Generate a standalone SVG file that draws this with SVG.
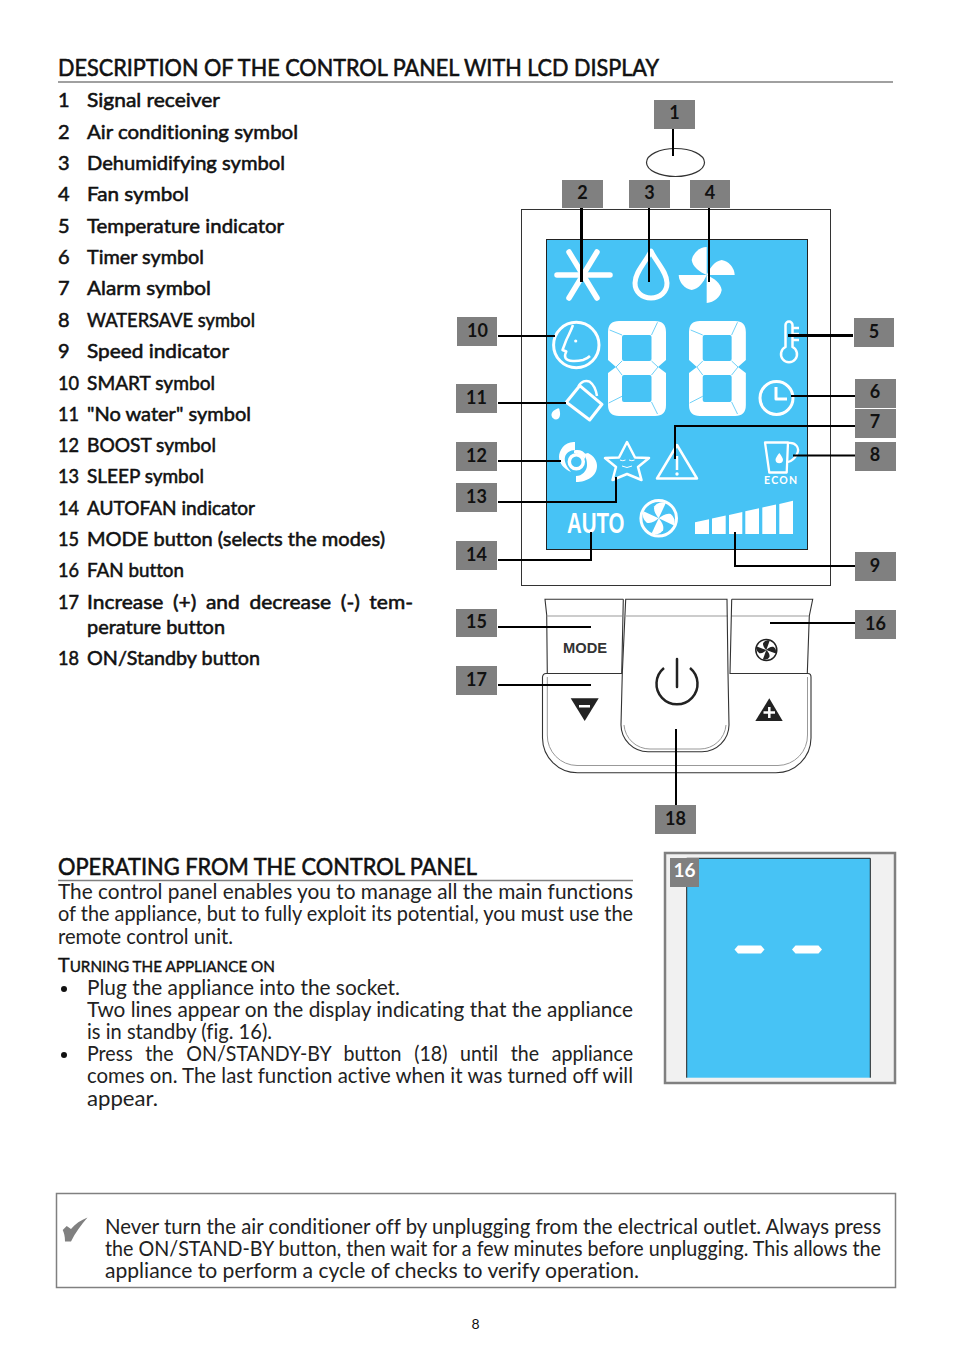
<svg xmlns="http://www.w3.org/2000/svg" width="954" height="1361" viewBox="0 0 954 1361">
<style>
text{font-family:"Lato","Open Sans","Liberation Sans",sans-serif;fill:#111;font-variant-ligatures:none}
.li{font-size:20px;stroke:#111;stroke-width:.55px}
.h{font-size:24px;stroke:#111;stroke-width:.6px}
.p{font-size:20.5px;fill:#222}
.lab{font-size:18px;font-weight:700;text-anchor:middle}
.box{fill:#808080}
.conn line,.conn path{fill:none;stroke:#000;stroke-width:2}
.ic{fill:none;stroke:#fff;stroke-width:3;stroke-linejoin:round}
.w{fill:#fff}
.pl{fill:none;stroke:#333;stroke-width:1.1}
.pf{fill:none;stroke:#999;stroke-width:1}
</style>
<defs>
<path id="blade" d="M0,0L0,-28A16,16 0 0 0 -15,-15C-14,-8 -7,-3 0,0Z"/>
<g id="fan"><use href="#blade"/><use href="#blade" transform="rotate(90)"/><use href="#blade" transform="rotate(180)"/><use href="#blade" transform="rotate(270)"/></g>
<g id="digit">
<path fill="#fff" fill-rule="evenodd" d="M11,0H47Q58,0 58,11V39L50,46L58,52V84Q58,95 47,95H11Q0,95 0,84V52L8,46L0,39V11Q0,0 11,0ZM16,14Q14,14 14,16V38Q14,40 16,40H41.500Q43.500,40 43.500,38V16Q43.500,14 41.500,14ZM16,54Q14,54 14,56V79Q14,81 16,81H41.500Q43.500,81 43.500,79V56Q43.500,54 41.500,54Z"/>
<path fill="none" stroke="#47c3f5" stroke-width=".8" d="M14,14L1.700,9M43.500,14L49.500,1.300M14,75.300L.7,82M43.500,81L49.500,93M8,46L14,40M8,46L14,54M50,46L43.500,40M50,46L43.500,54"/>
</g>
</defs>
<rect width="954" height="1361" fill="#fff"/>

<g id="heading-1">
<text class="h" x="58" y="76" textLength="601" lengthAdjust="spacingAndGlyphs">DESCRIPTION OF THE CONTROL PANEL WITH LCD DISPLAY</text>
<line x1="58" y1="82" x2="893" y2="82" stroke="#808080" stroke-width="1.5"/>
</g>

<g id="legend">
<text class="li" x="58" y="107">1</text><text class="li" x="87" y="107" textLength="133" lengthAdjust="spacingAndGlyphs">Signal receiver</text>
<text class="li" x="58" y="139">2</text><text class="li" x="87" y="139" textLength="211" lengthAdjust="spacingAndGlyphs">Air conditioning symbol</text>
<text class="li" x="58" y="170">3</text><text class="li" x="87" y="170" textLength="198" lengthAdjust="spacingAndGlyphs">Dehumidifying symbol</text>
<text class="li" x="58" y="201">4</text><text class="li" x="87" y="201" textLength="102" lengthAdjust="spacingAndGlyphs">Fan symbol</text>
<text class="li" x="58" y="233">5</text><text class="li" x="87" y="233" textLength="197" lengthAdjust="spacingAndGlyphs">Temperature indicator</text>
<text class="li" x="58" y="264">6</text><text class="li" x="87" y="264" textLength="117" lengthAdjust="spacingAndGlyphs">Timer symbol</text>
<text class="li" x="58" y="295">7</text><text class="li" x="87" y="295" textLength="124" lengthAdjust="spacingAndGlyphs">Alarm symbol</text>
<text class="li" x="58" y="327">8</text><text class="li" x="87" y="327" textLength="168" lengthAdjust="spacingAndGlyphs">WATERSAVE symbol</text>
<text class="li" x="58" y="358">9</text><text class="li" x="87" y="358" textLength="142" lengthAdjust="spacingAndGlyphs">Speed indicator</text>
<text class="li" x="58" y="390" textLength="21" lengthAdjust="spacingAndGlyphs">10</text><text class="li" x="87" y="390" textLength="128" lengthAdjust="spacingAndGlyphs">SMART symbol</text>
<text class="li" x="58" y="421" textLength="21" lengthAdjust="spacingAndGlyphs">11</text><text class="li" x="87" y="421" textLength="164" lengthAdjust="spacingAndGlyphs">"No water" symbol</text>
<text class="li" x="58" y="452" textLength="21" lengthAdjust="spacingAndGlyphs">12</text><text class="li" x="87" y="452" textLength="129" lengthAdjust="spacingAndGlyphs">BOOST symbol</text>
<text class="li" x="58" y="483" textLength="21" lengthAdjust="spacingAndGlyphs">13</text><text class="li" x="87" y="483" textLength="117" lengthAdjust="spacingAndGlyphs">SLEEP symbol</text>
<text class="li" x="58" y="515" textLength="21" lengthAdjust="spacingAndGlyphs">14</text><text class="li" x="87" y="515" textLength="168" lengthAdjust="spacingAndGlyphs">AUTOFAN indicator</text>
<text class="li" x="58" y="546" textLength="21" lengthAdjust="spacingAndGlyphs">15</text><text class="li" x="87" y="546" textLength="298" lengthAdjust="spacingAndGlyphs">MODE button (selects the modes)</text>
<text class="li" x="58" y="577" textLength="21" lengthAdjust="spacingAndGlyphs">16</text><text class="li" x="87" y="577" textLength="97" lengthAdjust="spacingAndGlyphs">FAN button</text>
<text class="li" x="58" y="609" textLength="21" lengthAdjust="spacingAndGlyphs">17</text><text class="li" x="87" y="609" textLength="326" lengthAdjust="spacingAndGlyphs" word-spacing="4">Increase (+) and decrease (-) tem-</text>
<text class="li" x="87" y="634" textLength="138" lengthAdjust="spacingAndGlyphs">perature button</text>
<text class="li" x="58" y="665" textLength="21" lengthAdjust="spacingAndGlyphs">18</text><text class="li" x="87" y="665" textLength="173" lengthAdjust="spacingAndGlyphs">ON/Standby button</text>
</g>

<ellipse id="receiver" cx="675.5" cy="162.5" rx="29" ry="14" fill="none" stroke="#333" stroke-width="1.2"/>

<g id="lcd">
<rect x="521.5" y="209.5" width="309" height="376" fill="none" stroke="#333" stroke-width="1"/>
<rect x="546.5" y="239.5" width="261" height="310" fill="#47c3f5" stroke="#222" stroke-width="1"/>
<g id="sym-air" stroke="#fff" stroke-width="5.5" stroke-linecap="round"><line x1="557" y1="275" x2="610" y2="275"/><line x1="569" y1="252" x2="597" y2="298"/><line x1="597" y1="252" x2="569" y2="298"/></g>
<path id="sym-drop" class="ic" style="stroke-width:5" d="M651,251C646,262 635,272 635,283C635,292 642,298 651,298C660,298 667,292 667,283C667,272 656,262 651,251Z"/>
<use id="sym-fan" href="#fan" class="w" transform="translate(706.7,275)"/>
<g id="sym-smart" class="ic"><circle cx="576.3" cy="345" r="22.7"/><path style="stroke-width:2.5" d="M573,325C571,331 568,336 566.300,340L562.500,350L566.300,351.500C565,354 564.500,356 565.500,358C568,362 577,361.500 583,360C586,359 588,358 590,356"/><circle cx="575.700" cy="341" r="1.600" class="w" style="stroke:none"/></g>
<use href="#digit" transform="translate(608,321)"/>
<use href="#digit" transform="translate(689,321) scale(.98,1)"/>
<g id="sym-temp" class="ic" style="stroke-width:2.5"><path d="M785.5,347V325A3.5,3.5 0 0 1 792.5,325V347A8,8 0 1 1 785.5,347Z"/><path d="M793,328H799M793,334H799M793,340H799"/></g>
<g id="sym-timer" class="ic"><circle cx="776.5" cy="398" r="16.5"/><path d="M776,387V399H787"/></g>
<g id="sym-nowater"><path class="ic" d="M566.300,402.300L579.700,385.700L602,404.300L589.700,420Z"/><path class="ic" style="stroke-width:2.5" d="M578.500,386.500C581,381 586,380 589.700,381.700C593,384 596,390 597,396"/><path class="w" d="M559,408.300C555,409 551,412 551.500,415.500C552,419 556,420.500 558.500,418.500C561,416 560,411 559,408.300Z"/></g>
<g id="sym-boost"><path class="w" d="M575,442C565,441 559,450 559,457C559,463 564,469 571,472C566,466 564,461 565,457C566,453 570,450 575,450Z"/><path class="w" d="M588,453C594,456 597,461 597,466C597,476 587,482 576,482L576,476C582,476 587,471 587,465C587,461 586,457 584,454Z"/><circle cx="576.300" cy="461.700" r="7" fill="none" stroke="#fff" stroke-width="3.500"/><path class="w" d="M574,450.500C579,449 584,451 586,455L585,459C582,455 578,453 574,453Z"/></g>
<g id="sym-sleep"><polygon class="ic" style="stroke-width:2.5" points="627,442 635,457.500 649,458 638,467 641.500,480 627,474 612.500,480 616,467 605,458 619,457.500"/><path fill="none" stroke="#fff" stroke-width="1" d="M620,460Q623,461.500 625.500,460M629,460Q632,461.500 634.500,460M622,466Q627,469 632,466"/></g>
<g id="sym-alarm"><polygon class="ic" style="stroke-width:2.5" points="677,445 697,478.5 657,478.5"/><line x1="677" y1="456" x2="677" y2="470" stroke="#fff" stroke-width="2.5"/><circle cx="677" cy="474" r="1.7" class="w"/></g>
<g id="sym-econ"><path class="ic" style="stroke-width:2.3" d="M765,442.5H788L786.7,472.5H769.3ZM788,443C796,442 800,448 797,454C795,458 792,461 788,462"/><path class="w" d="M779.3,453C777,456 775.5,458 775.5,460A3.8,3.8 0 0 0 783,460C783,458 781.500,456 779.3,453Z"/><text x="764" y="484" font-size="10.500" style="fill:#fff;font-weight:700" textLength="33" lengthAdjust="spacing">ECON</text></g>
<text id="sym-auto" x="567" y="532.500" font-size="29" style="fill:#fff;font-family:'Liberation Sans',sans-serif;font-weight:700" textLength="57.500" lengthAdjust="spacingAndGlyphs">AUTO</text>
<g id="sym-autofan"><circle class="ic" cx="658.700" cy="518.300" r="17.800"/><use href="#fan" class="w" transform="translate(658.700,518.300) rotate(25) scale(.6)"/></g>
<g id="sym-speed" class="w"><polygon points="695,534 695,522.300 709,519.200 709,534"/><polygon points="712,534 712,518.600 725.700,515.600 725.700,534"/><polygon points="729,534 729,514.900 742.300,512 742.300,534"/><polygon points="745.300,534 745.300,511.300 759,508.300 759,534"/><polygon points="762.300,534 762.300,507.600 776,504.600 776,534"/><polygon points="779.300,534 779.300,503.900 793,500.700 793,534"/></g>
</g>

<g id="panel">
<path class="pl" d="M623.300,599.300H545L546.700,615L547.300,673.500M731.700,599.300H812.700L809.300,616L807.300,673.500"/>
<path class="pf" d="M546.700,616H622M731,616H809M626,616H728"/>
<path class="pl" d="M542.500,677V738A35,35 0 0 0 577.500,772.700H776A35,35 0 0 0 811,738V677"/>
<path class="pf" d="M547.300,677V735A30,30 0 0 0 577,765.500H778A30,30 0 0 0 807.500,735V677"/>
<path class="pl" d="M542.500,677Q543,673.500 546,673.500H622M730,673.500H808Q811,673.500 811,677"/>
<path class="pl" d="M623.300,599.300L621.700,674M731.700,599.300L730,674"/>
<path class="pl" d="M625.700,599.300L622.300,673L621,725A27,27 0 0 0 648,751.700H702A27,27 0 0 0 729,725L728,673L727,599.300Z"/>
<path class="pf" d="M624,725A26,26 0 0 0 650,749H700A26,26 0 0 0 726,725"/>
<text id="btn-mode" x="563" y="653" font-size="14.500" textLength="44" lengthAdjust="spacingAndGlyphs" style="font-weight:700;fill:#333;font-family:'Liberation Sans',sans-serif">MODE</text>
<g id="btn-fan"><circle cx="766.300" cy="650" r="10.500" fill="none" stroke="#222" stroke-width="1.500"/><use href="#fan" fill="#222" transform="translate(766.300,650) rotate(20) scale(.36)"/></g>
<g id="btn-down"><polygon points="570.700,698.300 598.700,698.300 584.700,721" fill="#222"/><rect x="579" y="705" width="11" height="2.500" fill="#fff"/></g>
<g id="btn-up"><polygon points="769.300,698.300 755.300,721 782.700,721" fill="#222"/><path d="M763.500,712.500H775M769.300,707V718" stroke="#fff" stroke-width="2.500"/></g>
<g id="btn-power" fill="none" stroke="#222" stroke-width="2.500"><path d="M664,668A20.500,20.500 0 1 0 690,668"/><line x1="677" y1="659" x2="677" y2="687" stroke-linecap="round"/></g>
</g>

<g id="connectors" class="conn">
<line x1="673" y1="129" x2="673" y2="156"/>
<line x1="581.500" y1="208" x2="581.500" y2="282" style="stroke-width:3"/>
<line x1="649" y1="208" x2="649" y2="282"/>
<line x1="709" y1="208" x2="709" y2="282"/>
<line x1="498" y1="336" x2="555" y2="336"/>
<line x1="788" y1="335.500" x2="853" y2="335.500" style="stroke-width:3"/>
<line x1="498" y1="403" x2="566" y2="403"/>
<line x1="791" y1="396" x2="855" y2="396"/>
<path d="M855,426H675V459"/>
<line x1="793" y1="455.500" x2="855" y2="455.500"/>
<line x1="498" y1="461" x2="561" y2="461"/>
<path d="M498,502H616V477"/>
<path d="M498,560H591V532"/>
<path d="M855,566H735V532"/>
<line x1="498" y1="627" x2="591" y2="627"/>
<line x1="498" y1="685" x2="591" y2="685"/>
<line x1="770" y1="623" x2="855" y2="623"/>
<line x1="676" y1="729" x2="676" y2="805"/>
</g>

<g id="n1"><rect class="box" x="654" y="100" width="41" height="29"/><text class="lab" x="674.500" y="119">1</text></g>
<g id="n2"><rect class="box" x="562" y="180" width="41" height="28"/><text class="lab" x="582.500" y="199">2</text></g>
<g id="n3"><rect class="box" x="629" y="180" width="41" height="28"/><text class="lab" x="649.500" y="199">3</text></g>
<g id="n4"><rect class="box" x="690" y="180" width="40" height="28"/><text class="lab" x="710" y="199">4</text></g>
<g id="n5"><rect class="box" x="854" y="318" width="40" height="29"/><text class="lab" x="874" y="338">5</text></g>
<g id="n6"><rect class="box" x="855" y="379" width="41" height="29"/><text class="lab" x="875" y="398">6</text></g>
<g id="n7"><rect class="box" x="855" y="409" width="41" height="29"/><text class="lab" x="875" y="428">7</text></g>
<g id="n8"><rect class="box" x="855" y="442" width="41" height="29"/><text class="lab" x="875" y="461">8</text></g>
<g id="n9"><rect class="box" x="855" y="552" width="41" height="29"/><text class="lab" x="875" y="572">9</text></g>
<g id="n10"><rect class="box" x="457" y="317" width="40" height="29"/><text class="lab" x="477.500" y="337">10</text></g>
<g id="n11"><rect class="box" x="456" y="384" width="41" height="29"/><text class="lab" x="476.500" y="404">11</text></g>
<g id="n12"><rect class="box" x="456" y="442" width="41" height="29"/><text class="lab" x="476.500" y="462">12</text></g>
<g id="n13"><rect class="box" x="456" y="483" width="41" height="29"/><text class="lab" x="476.500" y="503">13</text></g>
<g id="n14"><rect class="box" x="456" y="541" width="41" height="29"/><text class="lab" x="476.500" y="561">14</text></g>
<g id="n15"><rect class="box" x="456" y="609" width="41" height="28"/><text class="lab" x="476.500" y="628">15</text></g>
<g id="n16"><rect class="box" x="855" y="610" width="41" height="29"/><text class="lab" x="875.500" y="630">16</text></g>
<g id="n17"><rect class="box" x="456" y="666" width="41" height="29"/><text class="lab" x="476.500" y="686">17</text></g>
<g id="n18"><rect class="box" x="655" y="805" width="41" height="29"/><text class="lab" x="675.500" y="825">18</text></g>

<g id="operating">
<text class="h" x="58" y="875" textLength="419" lengthAdjust="spacingAndGlyphs">OPERATING FROM THE CONTROL PANEL</text>
<line x1="58" y1="880.500" x2="633" y2="880.500" stroke="#808080" stroke-width="1.500"/>
<text class="p" x="58" y="899" textLength="575" lengthAdjust="spacingAndGlyphs">The control panel enables you to manage all the main functions</text>
<text class="p" x="58" y="921" textLength="575" lengthAdjust="spacingAndGlyphs">of the appliance, but to fully exploit its potential, you must use the</text>
<text class="p" x="58" y="944" textLength="175" lengthAdjust="spacingAndGlyphs">remote control unit.</text>
<text x="58" y="972" font-size="15.500" textLength="217" lengthAdjust="spacingAndGlyphs" style="stroke:#111;stroke-width:.4"><tspan font-size="20">T</tspan>URNING THE APPLIANCE ON</text>
<circle cx="64" cy="989" r="3" fill="#111"/>
<text class="p" x="87" y="995" textLength="313" lengthAdjust="spacingAndGlyphs">Plug the appliance into the socket.</text>
<text class="p" x="87" y="1017" textLength="546" lengthAdjust="spacingAndGlyphs">Two lines appear on the display indicating that the appliance</text>
<text class="p" x="87" y="1039" textLength="185" lengthAdjust="spacingAndGlyphs">is in standby (fig. 16).</text>
<circle cx="64" cy="1055" r="3" fill="#111"/>
<text class="p" x="87" y="1061" textLength="546" lengthAdjust="spacingAndGlyphs" word-spacing="8">Press the ON/STANDY-BY button (18) until the appliance</text>
<text class="p" x="87" y="1083" textLength="546" lengthAdjust="spacingAndGlyphs">comes on. The last function active when it was turned off will</text>
<text class="p" x="87" y="1106" textLength="71" lengthAdjust="spacingAndGlyphs">appear.</text>
</g>

<g id="fig16">
<rect x="665" y="853" width="230" height="230" fill="#f1f1f1" stroke="#808080" stroke-width="2.500"/>
<rect x="686.700" y="858.300" width="183.600" height="219.400" fill="#47c3f5"/>
<path d="M686.700,1077.700V858.300H870.300V1077.700" fill="none" stroke="#222" stroke-width="1"/>
<rect class="box" x="670" y="858" width="29" height="29"/>
<text x="684.500" y="877" font-size="19" text-anchor="middle" style="fill:#fff;font-weight:700">16</text>
<polygon class="w" points="734.500,949.500 738,945.500 761,945.500 764.500,949.500 761,953.500 738,953.500"/>
<polygon class="w" points="792,949.500 795.500,945.500 818.500,945.500 822,949.500 818.500,953.500 795.500,953.500"/>
</g>

<g id="note">
<rect x="56.500" y="1193.500" width="839" height="94" fill="none" stroke="#808080" stroke-width="1.500"/>
<path fill="#808080" d="M62.700,1230L66.700,1226L71,1229C75,1224 81,1220 87.500,1217.500C81,1225 75,1233 71,1241.500L65,1241.500C65,1236 64,1233 62.700,1230Z"/>
<text class="p" x="105" y="1234" textLength="776" lengthAdjust="spacingAndGlyphs">Never turn the air conditioner off by unplugging from the electrical outlet. Always press</text>
<text class="p" x="105" y="1256" textLength="776" lengthAdjust="spacingAndGlyphs">the ON/STAND-BY button, then wait for a few minutes before unplugging.  This allows the</text>
<text class="p" x="105" y="1278" textLength="534" lengthAdjust="spacingAndGlyphs">appliance to perform a cycle of checks to verify operation.</text>
</g>
<text id="page" x="475.500" y="1329" font-size="14" text-anchor="middle">8</text>
</svg>
